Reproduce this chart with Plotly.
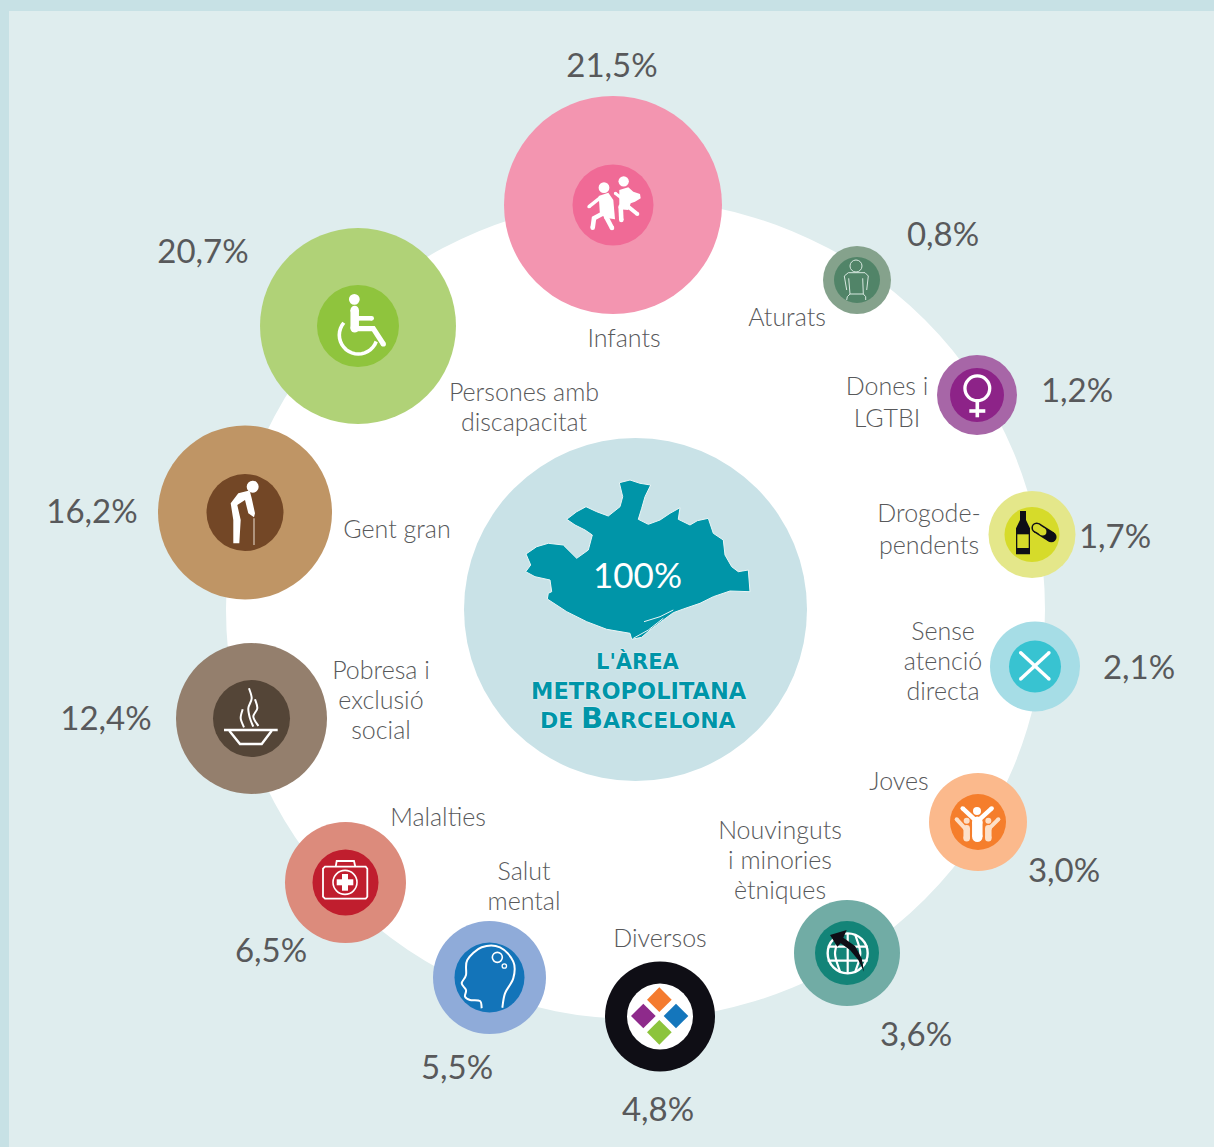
import math
import plotly.graph_objects as go

# ---------- data ----------
categories = ["Infants", "Aturats", "Dones i<br>LGTBI", "Drogode-<br>pendents", "Sense<br>atenció<br>directa",
              "Joves", "Nouvinguts<br>i minories<br>ètniques", "Diversos", "Salut<br>mental", "Malalties",
              "Pobresa i<br>exclusió<br>social", "Gent gran", "Persones amb<br>discapacitat"]
values = [21.5, 0.8, 1.2, 1.7, 2.1, 3.0, 3.6, 4.8, 5.5, 6.5, 12.4, 16.2, 20.7]

# ---------- layout of the infographic (pixels) ----------
center_x = [613, 857, 977, 1032, 1035, 978, 847, 660, 489.5, 345.5, 251.5, 245, 358]
center_y = [205, 280, 395, 534.5, 666.5, 822, 953, 1016.5, 977.5, 882.5, 718.5, 512.5, 326]
outer_d = [218, 68, 80, 87, 90, 98, 106, 110, 113, 121, 151, 174, 196]
inner_d = [81, 46, 54, 55, 52, 56, 64, 66, 70, 66, 77, 77, 82]
outer_col = ["#f395b0", "#85a28c", "#a766a7", "#e4e78a", "#a6dde6", "#fbb98c", "#71aca5", "#0f0e15",
             "#8fabd9", "#dc8b7c", "#947f6d", "#bf9565", "#b0d277"]
inner_col = ["#f06a96", "#518468", "#8d2388", "#d6db2a", "#38c3d1", "#f57e2c", "#138478", "#ffffff",
             "#1374b9", "#c01e2e", "#544537", "#734726", "#8fc43d"]
value_x = [612, 943, 1077, 1115, 1139, 1064, 916, 658, 457, 271, 106, 92, 203]
value_y = [69, 238, 394, 540, 671, 874, 1038, 1113, 1071, 954, 722, 515, 255]
label_x = [624, 787, 887, 929, 943, 899, 780, 660, 524, 438, 381, 397, 524]
label_y = [341, 320, 405, 532, 664, 784, 863, 941, 889, 820, 703, 532, 410]
label_gap = [30, 30, 32, 32, 30, 30, 30, 30, 30, 30, 30, 30, 30]

TXT = "#58595b"
FONT = "Lato"
shapes = []


def Z(ox, oy, pts):
    return [(ox + x / 3, oy + y / 3) for x, y in pts]


def poly(pts, fill, close=True, width=0, color=None):
    d = "M " + " L ".join(f"{x:.1f},{y:.1f}" for x, y in pts) + (" Z" if close else "")
    shapes.append(dict(type="path", path=d, xref="x", yref="y", layer="above",
                       fillcolor=fill if fill else "rgba(0,0,0,0)",
                       line=dict(width=width, color=color or "rgba(0,0,0,0)")))


def dot(x, y, r, fill=None, width=0, color=None):
    shapes.append(dict(type="circle", x0=x - r, x1=x + r, y0=y - r, y1=y + r, xref="x", yref="y", layer="above",
                       fillcolor=fill if fill else "rgba(0,0,0,0)",
                       line=dict(width=width, color=color or "rgba(0,0,0,0)")))


def stroke(pts, w, color="#ffffff", tips=True):
    poly(pts, None, close=False, width=w, color=color)
    if tips:
        for x, y in (pts[0], pts[-1]):
            dot(x, y, w / 2, fill=color)


def smooth(pts, w, color="#ffffff"):
    d = f"M {pts[0][0]:.1f},{pts[0][1]:.1f}"
    n = len(pts)
    for i in range(n - 1):
        p0 = pts[max(i - 1, 0)]
        p1 = pts[i]
        p2 = pts[i + 1]
        p3 = pts[min(i + 2, n - 1)]
        c1 = (p1[0] + (p2[0] - p0[0]) / 6, p1[1] + (p2[1] - p0[1]) / 6)
        c2 = (p2[0] - (p3[0] - p1[0]) / 6, p2[1] - (p3[1] - p1[1]) / 6)
        d += f" C {c1[0]:.1f},{c1[1]:.1f} {c2[0]:.1f},{c2[1]:.1f} {p2[0]:.1f},{p2[1]:.1f}"
    shapes.append(dict(type="path", path=d, xref="x", yref="y", layer="above",
                       fillcolor="rgba(0,0,0,0)", line=dict(width=w, color=color)))


W = "#ffffff"
# --- Infants
o = (500, 90)
dot(*Z(*o, [(312, 293)])[0], 5.4, fill=W)
dot(*Z(*o, [(371, 274)])[0], 5.2, fill=W)
poly(Z(*o, [(296, 318), (325, 308), (340, 330), (345, 388), (325, 385), (300, 375), (298, 345)]), W)
stroke(Z(*o, [(267, 350), (302, 322)]), 3.4)
stroke(Z(*o, [(310, 370), (282, 385), (278, 413)]), 4.6)
stroke(Z(*o, [(318, 380), (336, 414)]), 4.6)
poly(Z(*o, [(358, 300), (385, 292), (400, 305), (420, 312), (422, 325), (405, 335), (392, 340), (385, 360), (358, 358)]), W)
stroke(Z(*o, [(346, 310), (365, 325)]), 3)
stroke(Z(*o, [(362, 350), (364, 390)]), 4.6)
stroke(Z(*o, [(385, 350), (412, 372)]), 4)
# --- Aturats
o = (500, 90)
c = "#d8e8e0"
dot(*Z(*o, [(1068, 528)])[0], 6, width=1, color=c)
poly(Z(*o, [(1040, 600), (1033, 558), (1045, 548), (1095, 548), (1105, 558), (1100, 600)]), None, close=False, width=1, color=c)
poly(Z(*o, [(1046, 565), (1050, 612), (1090, 612), (1088, 565)]), None, close=False, width=1, color=c)
poly(Z(*o, [(1040, 630), (1042, 620), (1050, 612)]), None, close=False, width=1, color=c)
poly(Z(*o, [(1097, 630), (1097, 620), (1090, 612)]), None, close=False, width=1, color=c)
# --- Dones
o = (930, 350)
dot(*Z(*o, [(142, 115)])[0], 12.4, width=3.3, color=W)
stroke(Z(*o, [(142, 155), (142, 202)]), 3.6, tips=False)
stroke(Z(*o, [(118, 183), (166, 183)]), 3.6, tips=False)
# --- Drogodependents
o = (930, 350)
K = "#0e0e16"
poly(Z(*o, [(270, 483), (288, 483), (288, 510), (300, 535), (300, 613), (258, 613), (258, 535), (270, 510)]), K)
poly(Z(*o, [(262, 553), (296, 553), (296, 594), (262, 594)]), "#d6db2a")
stroke(Z(*o, [(320, 533), (364, 561)]), 10.5, color=K)
stroke(Z(*o, [(320, 533), (338, 545)]), 7.5, color="#d6db2a")
# --- Sense atenció
o = (930, 350)
stroke(Z(*o, [(272, 987), (357, 908)]), 3.4)
stroke(Z(*o, [(272, 908), (357, 987)]), 3.4)
# --- Joves
o = (780, 770)
L = "#fde0c8"
dot(*Z(*o, [(560, 152)])[0], 3, fill=L)
dot(*Z(*o, [(625, 152)])[0], 3, fill=L)
stroke(Z(*o, [(530, 148), (558, 178), (562, 205)]), 4, color=L)
stroke(Z(*o, [(655, 148), (625, 178), (625, 205)]), 4, color=L)
stroke(Z(*o, [(560, 175), (560, 205)]), 6.5, color=L)
stroke(Z(*o, [(625, 175), (625, 205)]), 6.5, color=L)
dot(*Z(*o, [(591, 123)])[0], 4, fill=W)
stroke(Z(*o, [(548, 115), (591, 155), (635, 115)]), 4.4)
stroke(Z(*o, [(592, 155), (592, 200)]), 10.5)
# --- Nouvinguts
o = (780, 770)
gx, gy = Z(*o, [(203, 550)])[0]
dot(gx, gy, 20, width=2.4, color=W)
stroke(Z(*o, [(143, 530), (263, 530)]), 2.2, tips=False)
stroke(Z(*o, [(143, 572), (263, 572)]), 2.2, tips=False)
stroke(Z(*o, [(203, 490), (203, 610)]), 2.2, tips=False)
smooth(Z(*o, [(180, 495), (165, 550), (180, 605)]), 2.2)
smooth(Z(*o, [(226, 495), (241, 550), (226, 605)]), 2.2)
poly(Z(*o, [(150, 495), (200, 480), (190, 503), (225, 528), (245, 565), (252, 605), (235, 570), (210, 540), (182, 520), (172, 530)]), K)
# --- Diversos
o = (430, 915)
for (dx, dy), col in zip([(688, 254), (640, 303), (738, 303), (688, 352)],
                         ["#f47b2f", "#8e2a8b", "#1476bc", "#8cc43c"]):
    poly(Z(*o, [(dx, dy - 37), (dx + 37, dy), (dx, dy + 37), (dx - 37, dy)]), col)
# --- Salut mental
smooth(Z(*o, [(155, 280), (150, 258), (120, 255), (105, 245), (108, 225), (95, 205), (108, 180), (112, 135),
              (155, 97), (210, 97), (250, 140), (250, 190), (225, 235), (217, 278)]), 2)
dot(*Z(*o, [(202, 127)])[0], 5, width=1.6, color=W)
dot(*Z(*o, [(223, 153)])[0], 2.2, width=1.3, color=W)
# --- Malalties
o = (170, 640)
poly(Z(*o, [(465, 680), (587, 680), (592, 686), (592, 770), (587, 776), (465, 776), (459, 770), (459, 686)]),
     None, width=1.8, color=W)
poly(Z(*o, [(497, 680), (500, 663), (552, 663), (556, 680)]), None, close=False, width=1.8, color=W)
dot(*Z(*o, [(525, 727)])[0], 12, width=1.6, color=W)
stroke(Z(*o, [(525, 702), (525, 752)]), 6, tips=False)
stroke(Z(*o, [(500, 727), (550, 727)]), 6, tips=False)
# --- Pobresa
stroke(Z(*o, [(162, 270), (323, 270)]), 2.6, tips=False)
poly(Z(*o, [(178, 272), (210, 312), (275, 312), (305, 272)]), None, close=False, width=2.4, color=W)
smooth(Z(*o, [(237, 145), (245, 175), (235, 205), (240, 235), (250, 260)]), 2)
smooth(Z(*o, [(255, 178), (262, 205), (250, 230), (265, 258)]), 2)
smooth(Z(*o, [(218, 208), (212, 235), (222, 262)]), 2)
# --- Gent gran
o = (150, 220)
dot(*Z(*o, [(308, 800)])[0], 6, fill=W)
poly(Z(*o, [(295, 812), (265, 820), (242, 850), (250, 900), (250, 970), (268, 970), (272, 900), (262, 855),
            (285, 840), (295, 880), (312, 892), (315, 880), (305, 835), (300, 815)]), W)
stroke(Z(*o, [(312, 895), (312, 975)]), 1.2, color="#d9c8b8", tips=False)
# --- Persones amb discapacitat
dot(*Z(*o, [(613, 238)])[0], 5.4, fill=W)
stroke(Z(*o, [(614, 270), (614, 325)]), 8.5)
stroke(Z(*o, [(625, 295), (665, 295)]), 4.6)
stroke(Z(*o, [(612, 326), (670, 326), (700, 372)]), 5.2)
arc = [(625 + 57 * math.sin(math.radians(a)), 345 + 57 * math.cos(math.radians(a))) for a in range(-130, 71, 10)]
poly(Z(*o, arc), None, close=False, width=3.6, color=W)

# --- map of the metropolitan area
o = (460, 430)
map_pts = [(478, 158), (510, 150), (540, 160), (572, 165), (555, 200), (545, 235), (535, 268), (565, 283), (600, 270),
           (630, 250), (660, 233), (655, 268), (690, 285), (712, 272), (745, 265), (760, 310), (790, 330), (795, 375),
           (815, 410), (835, 425), (865, 420), (870, 485), (810, 483), (760, 500), (720, 520), (670, 537), (640, 548),
           (610, 570), (570, 600), (545, 622), (515, 628), (510, 610), (440, 598), (380, 575), (320, 545), (262, 507),
           (265, 490), (275, 485), (270, 450), (225, 440), (197, 425), (212, 405), (198, 372), (230, 350), (265, 340),
           (310, 345), (350, 385), (385, 360), (397, 315), (375, 300), (345, 285), (320, 268), (350, 245), (378, 230),
           (410, 245), (445, 258), (480, 230), (488, 200)]
poly(Z(*o, map_pts), "#0095a8", width=1, color="#eaf5f6")
poly(Z(*o, [(552, 575), (600, 560), (640, 540)]), None, close=False, width=1, color="#eaf5f6")
poly(Z(*o, [(520, 625), (565, 600), (610, 565)]), None, close=False, width=1, color="#eaf5f6")

# ---------- background ----------
bg = [
    dict(type="rect", x0=0, x1=1214, y0=0, y1=1147, fillcolor="#c7e1e5", line=dict(width=0), layer="below"),
    dict(type="rect", x0=9, x1=1214, y0=11, y1=1147, fillcolor="#dfedee", line=dict(width=0), layer="below"),
    dict(type="circle", x0=226, x1=1045, y0=200, y1=1019, fillcolor="#ffffff", line=dict(width=0), layer="below"),
]

# labels are placed line by line to control the leading
line_x, line_y, line_text = [], [], []
for cat, lx, ly, gap in zip(categories, label_x, label_y, label_gap):
    parts = cat.split("<br>")
    for i, part in enumerate(parts):
        line_x.append(lx)
        line_y.append(ly + (i - (len(parts) - 1) / 2) * gap)
        line_text.append(part)

fig = go.Figure()
fig.add_trace(go.Scatter(x=[635.5], y=[609.5], mode="markers", hoverinfo="skip",
                         marker=dict(size=343, color="#c9e2e7", opacity=1, line=dict(width=0))))
fig.add_trace(go.Scatter(x=center_x, y=center_y, mode="markers", text=categories, customdata=values,
                         hovertemplate="%{text}: %{customdata}%<extra></extra>",
                         marker=dict(size=outer_d, color=outer_col, opacity=1, line=dict(width=0))))
fig.add_trace(go.Scatter(x=center_x, y=center_y, mode="markers", hoverinfo="skip",
                         marker=dict(size=inner_d, color=inner_col, opacity=1, line=dict(width=0))))
fig.add_trace(go.Scatter(x=value_x, y=value_y, mode="text", hoverinfo="skip",
                         text=[f"{v:.1f}%".replace(".", ",") for v in values],
                         textposition="middle center",
                         textfont=dict(family=FONT, size=33, color=TXT)))
fig.add_trace(go.Scatter(x=line_x, y=line_y, mode="text", hoverinfo="skip",
                         text=line_text, textposition="middle center",
                         textfont=dict(family=FONT, size=25, weight=300, color=TXT)))

TEAL = "#0095a8"
HALO = "0 0 2px #ffffff"
center_text = [
    dict(text="100%", x=637, y=574, font=dict(family=FONT, size=35, color="#ffffff")),
    dict(text="L'ÀREA", x=638, y=661, font=dict(family="DejaVu Sans", size=21, weight="bold", color=TEAL, shadow=HALO)),
    dict(text="METROPOLITANA", x=639, y=691, font=dict(family="DejaVu Sans", size=22.5, weight="bold", color=TEAL, shadow=HALO)),
    dict(text='DE <span style="font-size:29px">B</span>ARCELONA', x=638, y=718,
         font=dict(family="DejaVu Sans", size=22, weight="bold", color=TEAL, shadow=HALO)),
]
for a in center_text:
    a.update(xref="x", yref="y", showarrow=False, xanchor="center", yanchor="middle")

fig.update_layout(
    width=1214, height=1147, autosize=False, showlegend=False,
    margin=dict(l=0, r=0, t=0, b=0, pad=0),
    paper_bgcolor="#dfedee", plot_bgcolor="#dfedee",
    xaxis=dict(range=[0, 1214], visible=False, fixedrange=True),
    yaxis=dict(range=[1147, 0], visible=False, fixedrange=True),
    shapes=bg + shapes, annotations=center_text,
)
fig.write_html("out.html", config=dict(displayModeBar=False),
               post_script="document.body.style.margin='0';document.documentElement.style.overflow='hidden';")
